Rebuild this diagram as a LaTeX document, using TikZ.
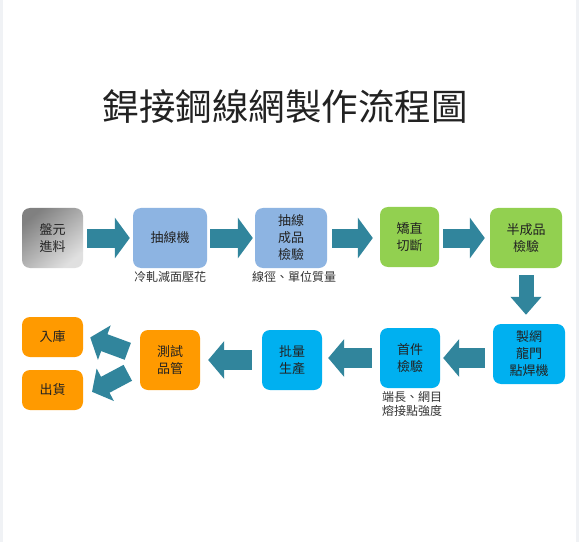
\documentclass[tikz,border=0pt]{standalone}
\usepackage{fontspec}
\newfontfamily\cjk{Noto Sans CJK TC}
\usetikzlibrary{arrows.meta}
\definecolor{arrowteal}{HTML}{31859C}
\definecolor{lblue}{HTML}{8DB4E2}
\definecolor{lgreen}{HTML}{92D050}
\definecolor{sky}{HTML}{00B0F0}
\definecolor{orng}{HTML}{FF9A00}
\definecolor{side}{HTML}{F0F2F5}
\definecolor{txt}{HTML}{222222}
\begin{document}
\begin{tikzpicture}[x=1bp,y=-1bp,
  box/.style={rounded corners=8bp, inner sep=0pt, align=center, text=txt,
    font=\cjk\fontsize{13bp}{17bp}\selectfont},
  note/.style={inner sep=0pt, align=left, text=black!80,
    font=\cjk\fontsize{12bp}{14bp}\selectfont},
  flowA/.style={draw=arrowteal, line width=19bp, -{Triangle[length=15bp,width=40bp]}},
  flowB/.style={draw=arrowteal, line width=20bp, -{Triangle[length=16bp,width=37bp]}},
  flowD/.style={draw=arrowteal, line width=15bp, -{Triangle[length=18bp,width=30bp]}},
  flowG/.style={draw=arrowteal, line width=18bp, -{Triangle[length=15bp,width=36bp]}}]
\fill[side] (0,0) rectangle (579,542);
\fill[white] (3,0) rectangle (576,542);
\useasboundingbox (0,0) rectangle (579,542);

\node[inner sep=0pt, text=txt, font=\cjk\fontsize{36.5bp}{40bp}\selectfont] (title) at (285,107) {銲接鋼線網製作流程圖};

% row 1
\node[box, minimum width=61bp, minimum height=60bp, top color=black!50, bottom color=black!12, shading angle=40] (n1) at (52.5,238) {盤元\\進料};
\node[box, fill=lblue, minimum width=74bp, minimum height=60bp] (n2) at (170,238) {抽線機};
\node[box, fill=lblue, minimum width=72bp, minimum height=60bp] (n3) at (291,238) {抽線\\成品\\檢驗};
\node[box, fill=lgreen, minimum width=59bp, minimum height=60bp] (n4) at (409.5,237) {矯直\\切斷};
\node[box, fill=lgreen, minimum width=72bp, minimum height=60bp] (n5) at (526,238) {半成品\\檢驗};

% row 2
\node[box, fill=sky, minimum width=72bp, minimum height=60bp] (n6) at (529,354) {製網\\龍門\\點焊機};
\node[box, fill=sky, minimum width=60bp, minimum height=60bp] (n7) at (410,358) {首件\\檢驗};
\node[box, fill=sky, minimum width=60bp, minimum height=60bp] (n8) at (292,360) {批量\\生產};
\node[box, fill=orng, minimum width=60bp, minimum height=60bp] (n9) at (170,360) {測試\\品管};
\node[box, fill=orng, minimum width=61bp, minimum height=40bp] (n10) at (52.5,337) {入庫};
\node[box, fill=orng, minimum width=61bp, minimum height=40bp] (n11) at (52.5,390) {出貨};

% notes
\node[note] (a1) at (170,277) {冷軋減面壓花};
\node[note] (a2) at (294,277) {線徑、單位質量};
\node[note] (a3) at (412,404) {端長、網目\\熔接點強度};

% arrows row 1
\draw[flowA, shorten <=4bp, shorten >=3bp] (n1.east) -- (n2.west);
\draw[flowA, shorten <=3bp, shorten >=2bp] (n2.east) -- (n3.west);
\draw[flowA, shorten <=5bp, shorten >=7bp] (n3.east) -- (n4.west |- n3.east);
\draw[flowA, shorten <=4bp, shorten >=5bp] (n4.east |- n5.west) -- (n5.west);
% down
\draw[flowD, shorten <=7bp, shorten >=9bp] (n5.south) -- (n5.south |- n6.north);
% row 2
\draw[flowB, shorten <=8bp, shorten >=3bp] (n6.west |- n7.east) -- (n7.east);
\draw[flowB, shorten <=8bp, shorten >=6bp] (n7.west) -- (n8.east |- n7.west);
\draw[flowB, shorten <=10bp, shorten >=8bp] (n8.west) -- (n9.east);
% diagonals
\draw[flowG, shorten <=12.8bp, shorten >=7.5bp] (n9.172) -- (n10.4);
\draw[flowG, shorten <=13.6bp, shorten >=10bp] (n9.192) -- (n11.-12);
\end{tikzpicture}
\end{document}
